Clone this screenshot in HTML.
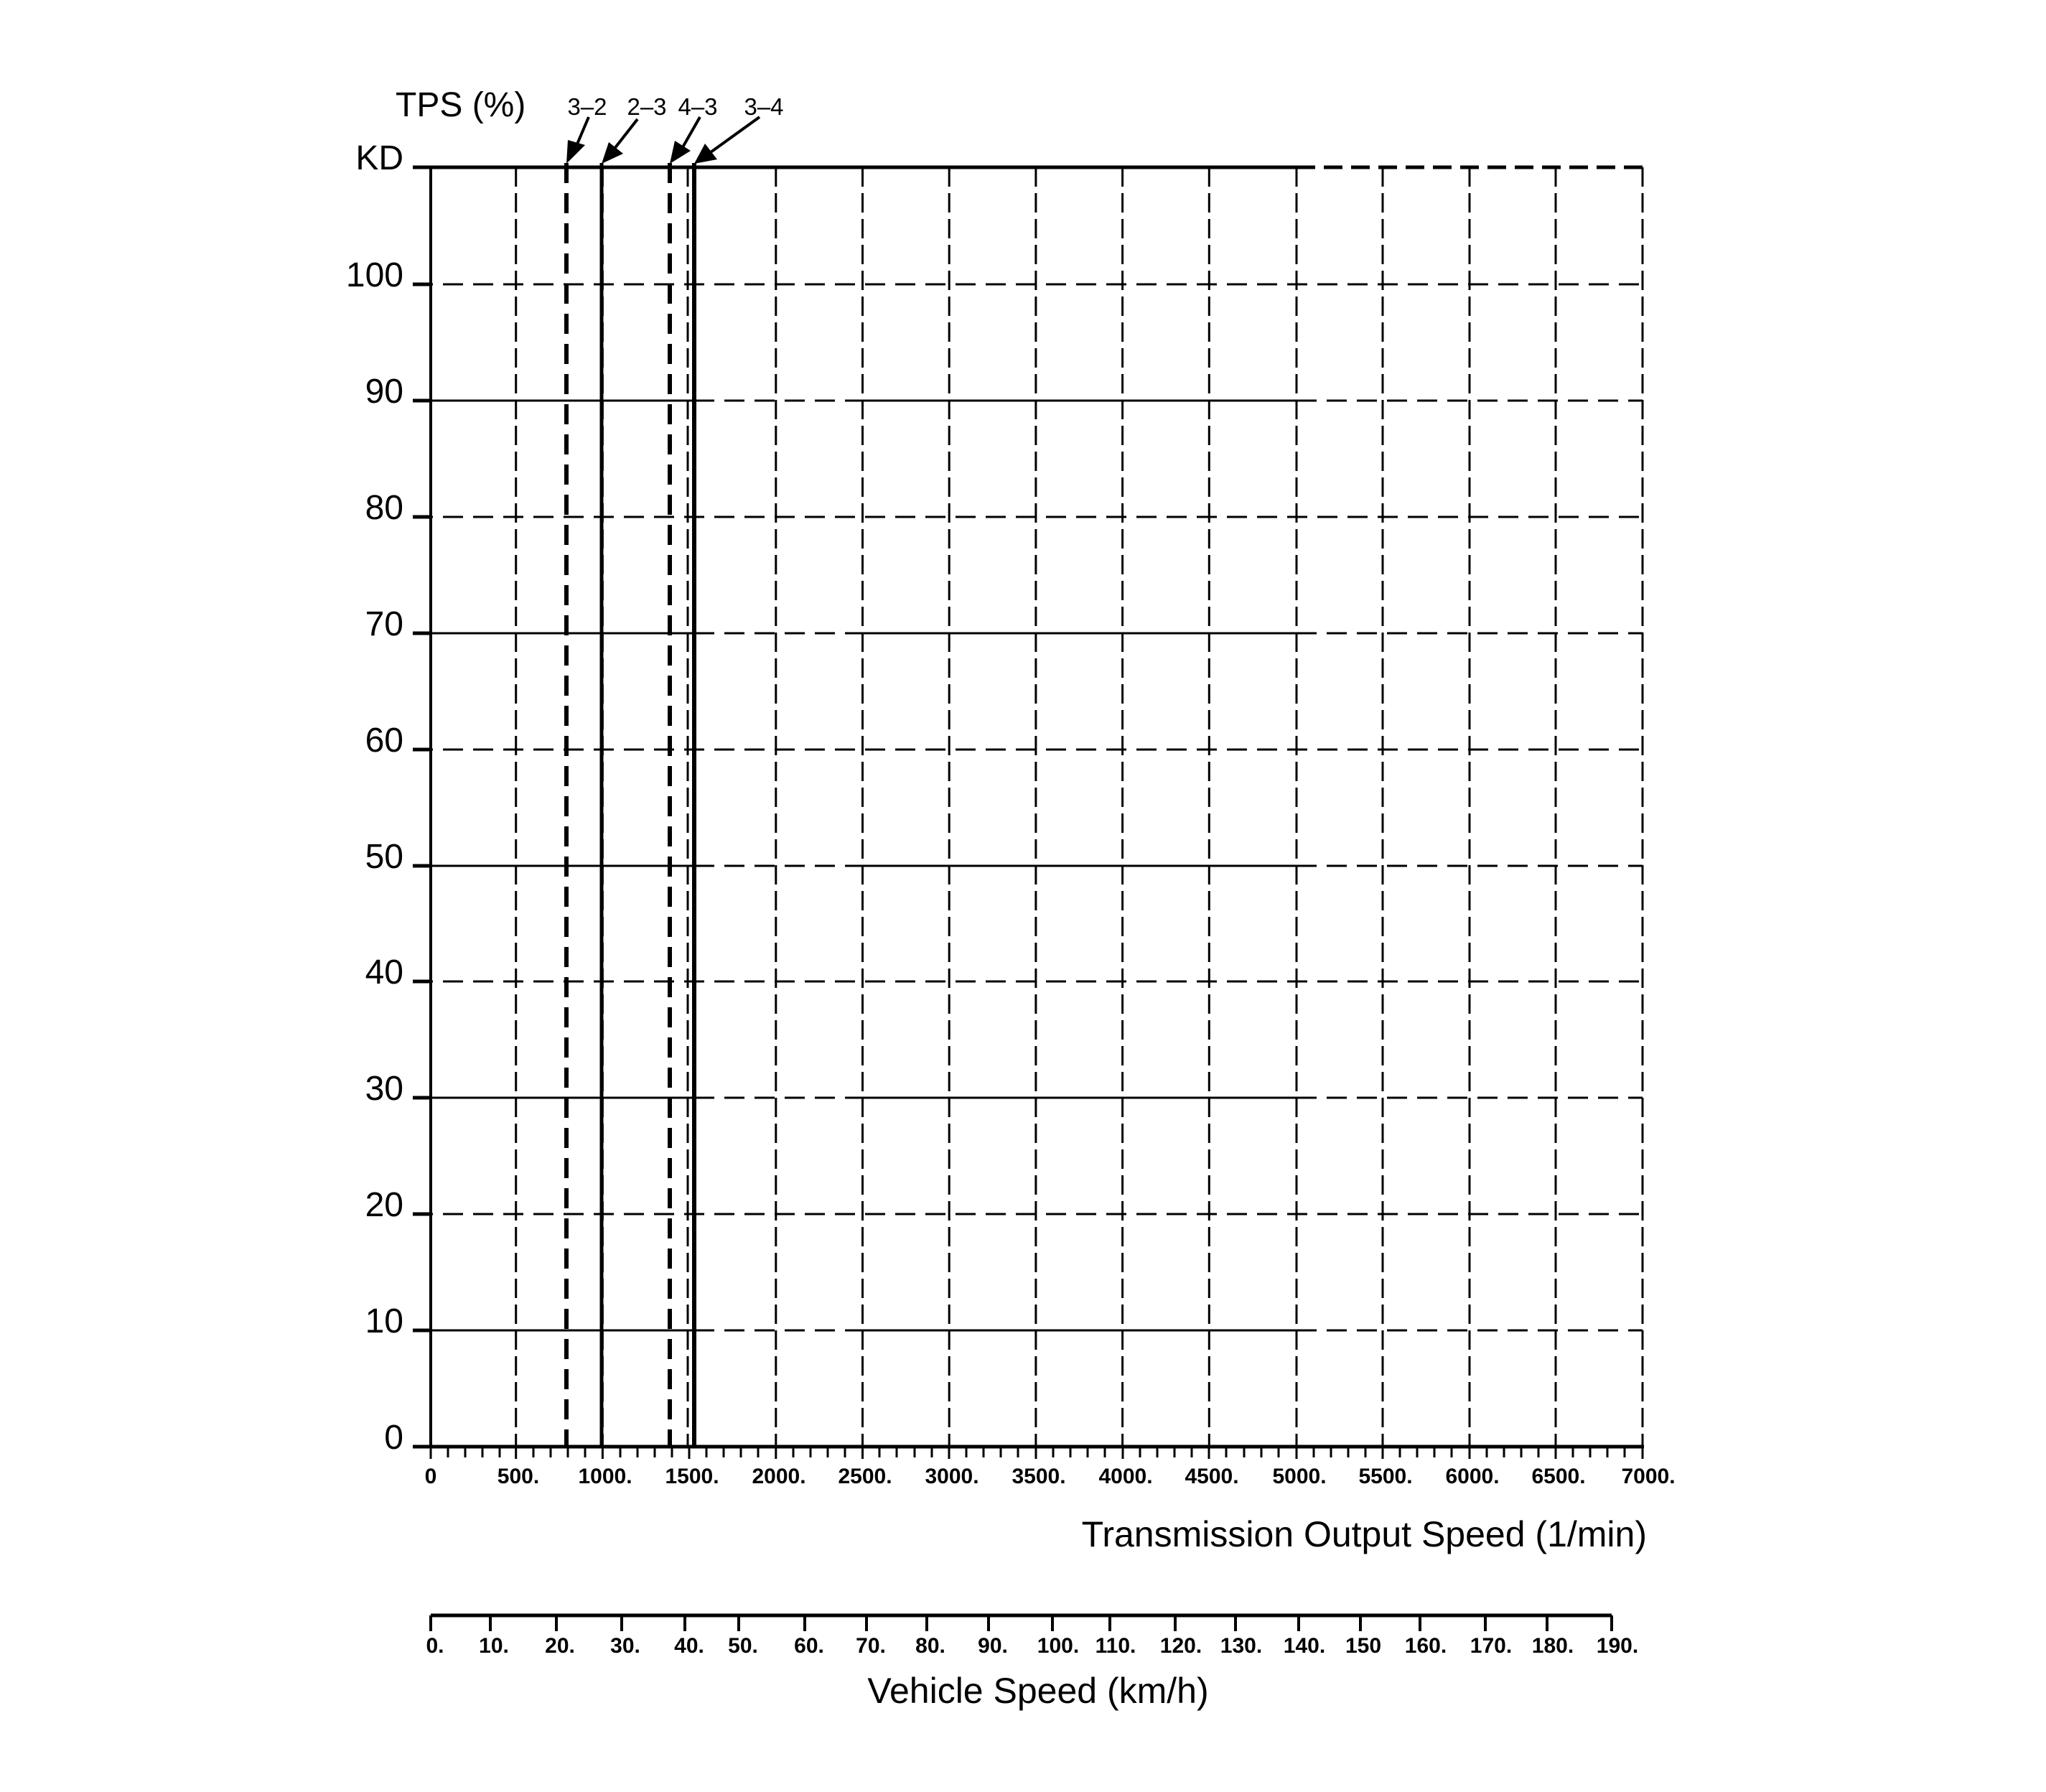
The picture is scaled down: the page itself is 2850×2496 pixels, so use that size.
<!DOCTYPE html>
<html><head><meta charset="utf-8"><style>html,body{margin:0;padding:0;background:#fff}svg{display:block}</style></head>
<body>
<svg width="2850" height="2496" viewBox="0 0 2850 2496" xmlns="http://www.w3.org/2000/svg" font-family="Liberation Sans, Arial, sans-serif" fill="#000">
<rect width="2850" height="2496" fill="#fff"/>
<g stroke="#000" fill="none">
<g stroke-width="3" stroke-dasharray="27,9">
<line x1="718.7" y1="233" x2="718.7" y2="2015"/>
<line x1="839.4" y1="233" x2="839.4" y2="2015"/>
<line x1="958" y1="233" x2="958" y2="2015"/>
<line x1="1080.8" y1="233" x2="1080.8" y2="2015"/>
<line x1="1201.5" y1="233" x2="1201.5" y2="2015"/>
<line x1="1322.2" y1="233" x2="1322.2" y2="2015"/>
<line x1="1442.9" y1="233" x2="1442.9" y2="2015"/>
<line x1="1563.6" y1="233" x2="1563.6" y2="2015"/>
<line x1="1684.3" y1="233" x2="1684.3" y2="2015"/>
<line x1="1806" y1="233" x2="1806" y2="2015"/>
<line x1="1926" y1="233" x2="1926" y2="2015"/>
<line x1="2047" y1="233" x2="2047" y2="2015"/>
<line x1="2167" y1="233" x2="2167" y2="2015"/>
<line x1="2288" y1="233" x2="2288" y2="2015"/>
</g>
<g stroke-width="3" stroke-dasharray="28,14">
<line x1="575" y1="396" x2="2288" y2="396"/>
<line x1="575" y1="720" x2="2288" y2="720"/>
<line x1="575" y1="1044" x2="2288" y2="1044"/>
<line x1="575" y1="1367" x2="2288" y2="1367"/>
<line x1="575" y1="1691" x2="2288" y2="1691"/>
</g>
<g stroke-width="3">
<path d="M575 558H967M1200 558H1806M575 882H967M1200 882H1806M575 1206H967M1200 1206H1806M575 1529H967M1200 1529H1806M575 1853H967M1200 1853H1806"/>
</g>
<g stroke-width="3" stroke-dasharray="28,14">
<path d="M967 558H1200M1806 558H2288M967 882H1200M1806 882H2288M967 1206H1200M1806 1206H2288M967 1529H1200M1806 1529H2288M967 1853H1200M1806 1853H2288"/>
</g>
<g stroke-width="5">
<path d="M575 396H598M575 558H598M575 720H598M575 882H598M575 1044H598M575 1206H598M575 1367H598M575 1529H598M575 1691H598M575 1853H598"/>
</g>
<line x1="575" y1="233" x2="1806" y2="233" stroke-width="5"/>
<line x1="1806" y1="233" x2="2290" y2="233" stroke-width="5" stroke-dasharray="26,12"/>
<line x1="600" y1="233" x2="600" y2="2015" stroke-width="4"/>
<line x1="575" y1="2015" x2="2290" y2="2015" stroke-width="5"/>
<line x1="789" y1="227" x2="789" y2="2015" stroke-width="6" stroke-dasharray="28,14"/>
<line x1="838" y1="227" x2="838" y2="2015" stroke-width="5"/>
<line x1="933" y1="227" x2="933" y2="2015" stroke-width="6" stroke-dasharray="28,14"/>
<line x1="967" y1="227" x2="967" y2="2015" stroke-width="6"/>
<g stroke-width="4">
<line x1="820" y1="163" x2="800" y2="210"/>
<line x1="888" y1="166" x2="852" y2="212"/>
<line x1="975" y1="163" x2="947" y2="212"/>
<line x1="1058" y1="163" x2="990" y2="212"/>
</g>
</g>
<g>
<polygon points="789,228 791,195 815,202"/>
<polygon points="838,228 848,198 868,214"/>
<polygon points="933,228 940,196 962,210"/>
<polygon points="967,228 982,200 999,222"/>
</g>
<path stroke="#000" stroke-width="3" fill="none" d="M600 2015V2032M624 2015V2030M648 2015V2030M672 2015V2030M696 2015V2030M718.7 2015V2032M743 2015V2030M767 2015V2030M791 2015V2030M815 2015V2030M839.4 2015V2032M864 2015V2030M888 2015V2030M912 2015V2030M936 2015V2030M960 2015V2032M984 2015V2030M1008 2015V2030M1032 2015V2030M1056 2015V2030M1080.8 2015V2032M1105 2015V2030M1129 2015V2030M1153 2015V2030M1177 2015V2030M1201.5 2015V2032M1225 2015V2030M1249 2015V2030M1274 2015V2030M1298 2015V2030M1322 2015V2032M1346 2015V2030M1370 2015V2030M1394 2015V2030M1418 2015V2030M1443 2015V2032M1467 2015V2030M1491 2015V2030M1515 2015V2030M1539 2015V2030M1564 2015V2032M1588 2015V2030M1612 2015V2030M1636 2015V2030M1660 2015V2030M1684 2015V2032M1708 2015V2030M1733 2015V2030M1757 2015V2030M1781 2015V2030M1806 2015V2032M1830 2015V2030M1854 2015V2030M1878 2015V2030M1902 2015V2030M1926 2015V2032M1950 2015V2030M1974 2015V2030M1998 2015V2030M2022 2015V2030M2047 2015V2032M2071 2015V2030M2095 2015V2030M2119 2015V2030M2143 2015V2030M2167 2015V2032M2191 2015V2030M2215 2015V2030M2239 2015V2030M2263 2015V2030M2288 2015V2032"/>
<g font-size="48" text-anchor="end">
<text x="562" y="236">KD</text>
<text x="562" y="399">100</text>
<text x="562" y="561">90</text>
<text x="562" y="723">80</text>
<text x="562" y="885">70</text>
<text x="562" y="1047">60</text>
<text x="562" y="1209">50</text>
<text x="562" y="1370">40</text>
<text x="562" y="1532">30</text>
<text x="562" y="1694">20</text>
<text x="562" y="1856">10</text>
<text x="562" y="2018">0</text>
</g>
<text x="551" y="162" font-size="48">TPS (%)</text>
<g font-size="33" text-anchor="middle">
<text x="818" y="160">3–2</text>
<text x="901" y="160">2–3</text>
<text x="972" y="160">4–3</text>
<text x="1064" y="160">3–4</text>
</g>
<g font-size="30" font-weight="bold" text-anchor="middle">
<text x="600" y="2066">0</text>
<text x="722" y="2066">500.</text>
<text x="843" y="2066">1000.</text>
<text x="964" y="2066">1500.</text>
<text x="1085" y="2066">2000.</text>
<text x="1205" y="2066">2500.</text>
<text x="1326" y="2066">3000.</text>
<text x="1447" y="2066">3500.</text>
<text x="1568" y="2066">4000.</text>
<text x="1688" y="2066">4500.</text>
<text x="1810" y="2066">5000.</text>
<text x="1930" y="2066">5500.</text>
<text x="2051" y="2066">6000.</text>
<text x="2171" y="2066">6500.</text>
<text x="2296" y="2066">7000.</text>
</g>
<text x="2294" y="2154" font-size="50" text-anchor="end">Transmission Output Speed (1/min)</text>
<path stroke="#000" stroke-width="5" fill="none" d="M600 2250H2245"/>
<path stroke="#000" stroke-width="4" fill="none" d="M600 2250V2272M683 2250V2272M775 2250V2272M866 2250V2272M954 2250V2272M1029 2250V2272M1121 2250V2272M1207 2250V2272M1291 2250V2272M1377 2250V2272M1466 2250V2272M1546 2250V2272M1637 2250V2272M1721 2250V2272M1809 2250V2272M1895 2250V2272M1978 2250V2272M2069 2250V2272M2155 2250V2272M2245 2250V2272"/>
<g font-size="30" font-weight="bold" text-anchor="middle">
<text x="606" y="2302">0.</text>
<text x="688" y="2302">10.</text>
<text x="780" y="2302">20.</text>
<text x="871" y="2302">30.</text>
<text x="960" y="2302">40.</text>
<text x="1035" y="2302">50.</text>
<text x="1127" y="2302">60.</text>
<text x="1213" y="2302">70.</text>
<text x="1296" y="2302">80.</text>
<text x="1383" y="2302">90.</text>
<text x="1474" y="2302">100.</text>
<text x="1554" y="2302">110.</text>
<text x="1645" y="2302">120.</text>
<text x="1729" y="2302">130.</text>
<text x="1817" y="2302">140.</text>
<text x="1899" y="2302">150</text>
<text x="1986" y="2302">160.</text>
<text x="2077" y="2302">170.</text>
<text x="2163" y="2302">180.</text>
<text x="2253" y="2302">190.</text>
</g>
<text x="1446" y="2372" font-size="50" text-anchor="middle">Vehicle Speed (km/h)</text>
</svg>
</body></html>
